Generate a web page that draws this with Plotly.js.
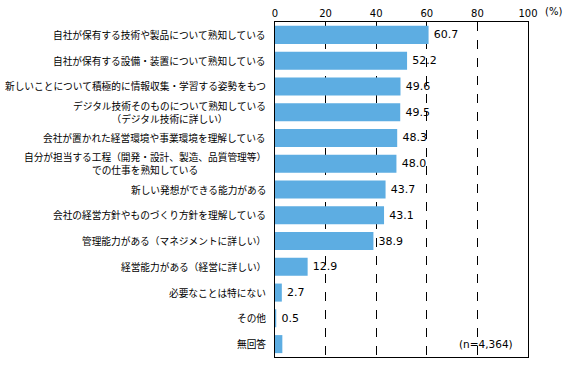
<!DOCTYPE html>
<html>
<head>
<meta charset="utf-8">
<script src="https://cdn.plot.ly/plotly-3.0.1.min.js"></script>
<style>html,body{margin:0;padding:0;background:#fff;}</style>
</head>
<body>
<div id="chart" style="width:568px;height:370px;"></div>
<script>
const categories = [
  "自社が保有する技術や製品について熟知している",
  "自社が保有する設備・装置について熟知している",
  "新しいことについて積極的に情報収集・学習する姿勢をもつ",
  "デジタル技術そのものについて熟知している<br>（デジタル技術に詳しい）",
  "会社が置かれた経営環境や事業環境を理解している",
  "自分が担当する工程（開発・設計、製造、品質管理等）<br>での仕事を熟知している",
  "新しい発想ができる能力がある",
  "会社の経営方針やものづくり方針を理解している",
  "管理能力がある（マネジメントに詳しい）",
  "経営能力がある（経営に詳しい）",
  "必要なことは特にない",
  "その他",
  "無回答"
];
const values = [60.7, 52.2, 49.6, 49.5, 48.3, 48.0, 43.7, 43.1, 38.9, 12.9, 2.7, 0.5, 2.9];
const valueLabels = ["60.7","52.2","49.6","49.5","48.3","48.0","43.7","43.1","38.9","12.9","2.7","0.5",""];
const tickVals = [0, 20, 40, 60, 80, 100];
const tickText = ["0", "20", "40", "60", "80", "100"];
const sampleNote = "(n=4,364)";

const FONT = "'Noto Sans CJK JP', 'Noto Sans', sans-serif";
const NUMFONT = "'DejaVu Sans', sans-serif";
const idx = categories.map((c, i) => i);

const trace = {
  type: "bar",
  orientation: "h",
  y: idx,
  x: values,
  width: 0.7,
  marker: {color: "#5dade2", line: {width: 0}},
  text: valueLabels.map(t => t ? "\u2009" + t : t),
  textposition: "outside",
  textfont: {family: NUMFONT, size: 11, color: "#000"},
  cliponaxis: false,
  hoverinfo: "none"
};

const annotations = categories.map((c, i) => ({
  xref: "paper", yref: "y",
  x: 0, y: i,
  xshift: -7,
  xanchor: "right", yanchor: "middle",
  align: "center",
  text: c,
  showarrow: false,
  font: {family: FONT, size: 9.7, color: "#000"}
}));
annotations.push({
  xref: "x", yref: "y", x: 95, y: 12,
  xanchor: "right", yanchor: "middle",
  text: sampleNote, showarrow: false,
  font: {family: NUMFONT, size: 10.5, color: "#000"}
});
annotations.push({
  xref: "paper", yref: "paper", x: 1, y: 1,
  xshift: 15, yshift: 11,
  xanchor: "left", yanchor: "middle",
  text: "(%)", showarrow: false,
  font: {family: NUMFONT, size: 10, color: "#000"}
});

const layout = {
  width: 568, height: 370,
  margin: {l: 275, r: 40, t: 22, b: 13, pad: 0},
  paper_bgcolor: "#fff", plot_bgcolor: "#fff",
  showlegend: false,
  font: {family: FONT, color: "#000"},
  xaxis: {
    side: "top",
    range: [0, 100],
    tickvals: tickVals,
    ticktext: tickText,
    tickfont: {family: NUMFONT, size: 10, color: "#000"},
    ticks: "",
    showgrid: true,
    gridcolor: "#000",
    gridwidth: 1,
    griddash: "dash",
    zeroline: false,
    showline: true,
    linecolor: "#000",
    linewidth: 1,
    mirror: true,
    fixedrange: true
  },
  yaxis: {
    range: [12.5, -0.5],
    showticklabels: false,
    ticks: "",
    showgrid: false,
    zeroline: false,
    showline: true,
    linecolor: "#000",
    linewidth: 1,
    mirror: true,
    fixedrange: true
  },
  annotations: annotations
};

Plotly.newPlot("chart", [trace], layout, {displayModeBar: false, staticPlot: true});
</script>
</body>
</html>
